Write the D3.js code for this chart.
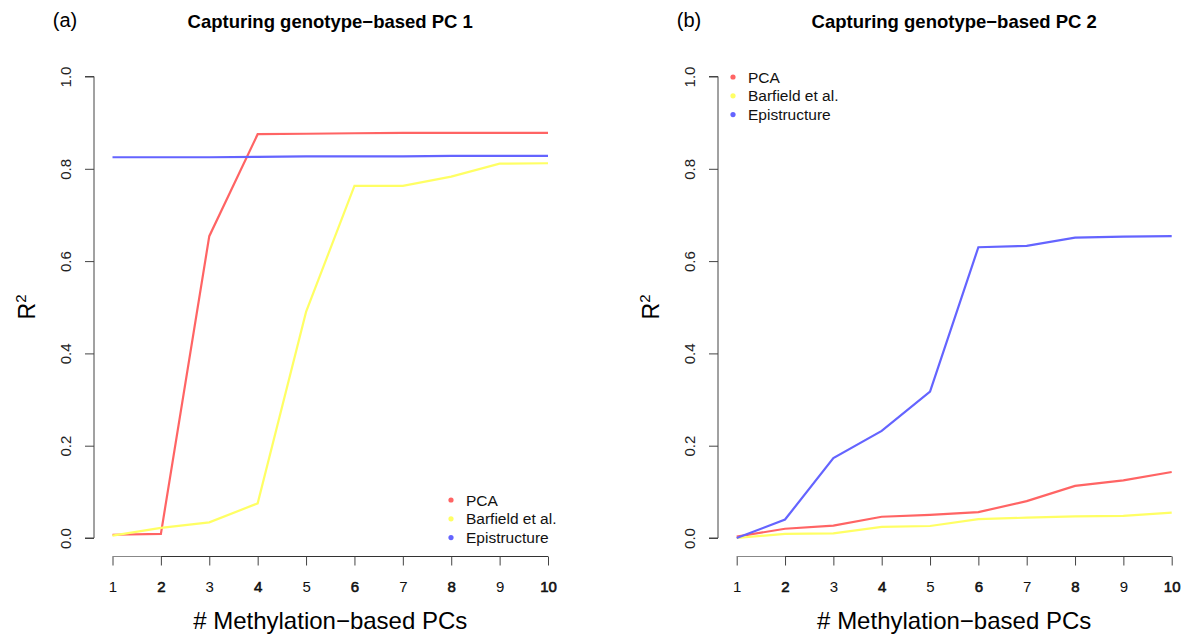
<!DOCTYPE html>
<html>
<head>
<meta charset="utf-8">
<script src="https://cdn.jsdelivr.net/npm/d3@7"></script>
<style>
  body { margin: 0; background: #fff; }
  svg { font-family: "Liberation Sans", Arial, sans-serif; }
</style>
</head>
<body>
<svg width="1185" height="634"></svg>
<script>
var pcs = [1, 2, 3, 4, 5, 6, 7, 8, 9, 10];
var yTicks = [0, 0.2, 0.4, 0.6, 0.8, 1.0];
var seriesNames = ["PCA", "Barfield et al.", "Epistructure"];
var seriesColors = ["#ff6464", "#ffff64", "#6464ff"];

// panel (a): genotype PC 1
var pcaA = [0.007, 0.009, 0.654, 0.875, 0.876, 0.877, 0.878, 0.878, 0.878, 0.878];
var barfieldA = [0.005, 0.022, 0.034, 0.075, 0.490, 0.763, 0.763, 0.783, 0.811, 0.812];
var epiA = [0.825, 0.825, 0.825, 0.826, 0.827, 0.827, 0.827, 0.828, 0.828, 0.828];

// panel (b): genotype PC 2
var pcaB = [0.003, 0.020, 0.027, 0.046, 0.050, 0.056, 0.080, 0.113, 0.125, 0.143];
var barfieldB = [0.000, 0.009, 0.010, 0.024, 0.026, 0.041, 0.044, 0.047, 0.048, 0.055];
var epiB = [0.000, 0.040, 0.173, 0.232, 0.317, 0.630, 0.633, 0.651, 0.653, 0.654];

var svg = d3.select("svg");

var panels = [
  { tag: "(a)", title: "Capturing genotype\u2212based PC 1", left: 112.5, right: 548, axisX: 94,
    series: [pcaA, barfieldA, epiA], legend: { x: 451, y: 500 } },
  { tag: "(b)", title: "Capturing genotype\u2212based PC 2", left: 736.7, right: 1171.7, axisX: 718,
    series: [pcaB, barfieldB, epiB], legend: { x: 733, y: 77 } }
];

panels.forEach(function(p) {
  var x = d3.scaleLinear().domain([1, 10]).range([p.left, p.right]);
  var y = d3.scaleLinear().domain([0, 1]).range([538, 76.5]);

  var g = svg.append("g");

  // y axis (R style, detached from the plot)
  var ya = g.append("g")
    .attr("transform", "translate(" + p.axisX + ",0)")
    .call(d3.axisLeft(y).tickValues(yTicks).tickSize(9).tickPadding(14)
          .tickFormat(d3.format(".1f")));
  ya.select(".domain").attr("stroke", "#444").attr("d", "M-9," + y(0) + "H0V" + y(1) + "H-9");
  ya.selectAll(".tick line").attr("stroke", "#444");
  ya.selectAll(".tick text")
    .attr("transform", "rotate(-90,-28,0)")
    .attr("x", -28).attr("dy", "0.35em")
    .attr("text-anchor", "middle")
    .style("font-size", "15px").attr("fill", "#222");

  // x axis
  var xa = g.append("g")
    .attr("transform", "translate(0,556.5)")
    .call(d3.axisBottom(x).tickValues(pcs).tickSize(9).tickPadding(16)
          .tickFormat(d3.format("d")));
  xa.select(".domain").attr("stroke", "#333").attr("d", "M" + x(2) + ",0H" + x(10));
  xa.append("path").attr("fill", "none").attr("stroke", "#888")
    .attr("d", "M" + x(1) + ",0H" + x(2));
  xa.selectAll(".tick line").attr("stroke", "#444");
  xa.selectAll(".tick text")
    .style("font-size", "15px")
    .attr("fill", "#111")
    .attr("stroke", d => d % 2 === 0 ? "#111" : "none")
    .attr("stroke-width", 0.6);

  // lines
  var line = d3.line().x((d, i) => x(pcs[i])).y(d => y(d));
  p.series.forEach(function(vals, k) {
    g.append("path")
      .datum(vals)
      .attr("d", line)
      .attr("fill", "none")
      .attr("stroke", seriesColors[k])
      .attr("stroke-width", 2.2);
  });

  // titles
  g.append("text").attr("x", (p.left + p.right) / 2).attr("y", 28)
    .attr("text-anchor", "middle").style("font-size", "18.5px").style("font-weight", "bold")
    .text(p.title);
  g.append("text").attr("x", p.axisX - 29).attr("y", 27)
    .attr("text-anchor", "middle").style("font-size", "20px")
    .text(p.tag);

  // axis labels
  g.append("text").attr("x", (p.left + p.right) / 2).attr("y", 629)
    .attr("text-anchor", "middle").style("font-size", "24px")
    .text("# Methylation\u2212based PCs");
  var yl = g.append("text")
    .attr("transform", "translate(" + (p.axisX - 59) + "," + 307 + ") rotate(-90)")
    .attr("text-anchor", "middle").style("font-size", "23px");
  yl.append("tspan").text("R");
  yl.append("tspan").attr("dy", "-9").style("font-size", "15px").text("2");

  // legend
  var lg = g.append("g").attr("transform", "translate(" + p.legend.x + "," + p.legend.y + ")");
  seriesNames.forEach(function(name, k) {
    lg.append("circle").attr("cx", 0).attr("cy", k * 18.8).attr("r", 2.6)
      .attr("fill", seriesColors[k]);
    lg.append("text").attr("x", 15).attr("y", k * 18.8).attr("dy", "0.36em")
      .style("font-size", "15.5px").attr("fill", "#111").text(name);
  });
});
</script>
</body>
</html>
